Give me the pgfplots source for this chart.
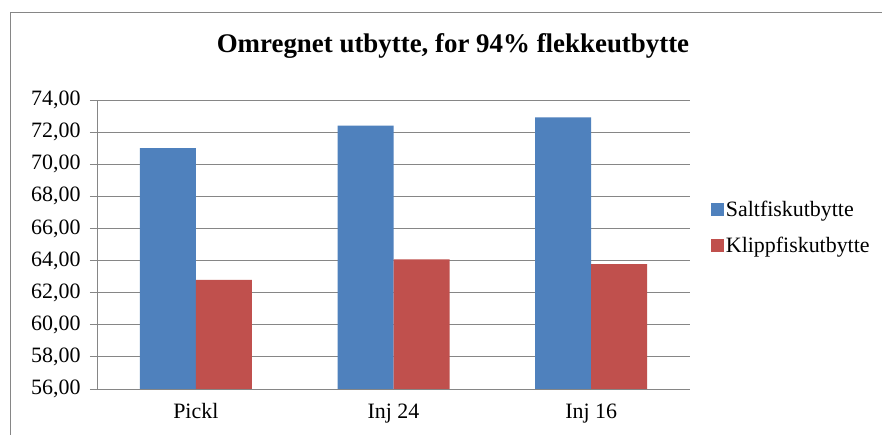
\documentclass[border=0pt]{standalone}
\usepackage{pgfplots}
\pgfplotsset{compat=1.18}
\usepackage{fontspec}
\setmainfont{Liberation Serif}
\definecolor{cblue}{HTML}{4F81BD}
\definecolor{cred}{HTML}{C0504D}
\definecolor{cgrid}{HTML}{868686}
\begin{document}
\begin{tikzpicture}
\useasboundingbox (0,0) rectangle (882bp,435bp);
\fill[white] (0,0) rectangle (882bp,435bp);
\draw[cgrid, line width=0.8bp] (10bp,-10bp) -- (10bp,423bp) -- (900bp,423bp);
\node[font=\fontsize{27}{30}\selectfont\bfseries] at (453bp,389bp) {Omregnet utbytte, for 94\% flekkeutbytte};
\begin{axis}[
  at={(97bp,46bp)}, anchor=south west,
  scale only axis, width=593bp, height=289bp,
  ymin=56, ymax=74, ytick={56,58,...,74},
  xmin=-0.5, xmax=2.5,
  xtick={0,1,2}, xticklabels={Pickl,Inj 24,Inj 16},
  ybar=0pt, bar width=56bp,
  axis lines*=left,
  axis line style={cgrid, line width=0.8bp},
  ymajorgrids, grid style={cgrid, line width=0.8bp},
  major tick length=7bp,
  tick align=outside,
  tick style={cgrid, line width=0.8bp},
  x tick style={draw=none},
  extra x ticks={-0.5,0.5,1.5,2.5}, extra x tick labels={},
  extra x tick style={grid=none, tick style={cgrid, line width=0.8bp}, major tick length=6bp},
  ticklabel style={font=\fontsize{22}{26}\selectfont, text=black},
  yticklabel style={xshift=-6bp},
  xticklabel style={yshift=-4bp},
  /pgf/number format/.cd, fixed, zerofill, precision=2, use comma, assume math mode=true,
  /pgfplots/.cd,
  legend style={at={(1.035,0.56)}, anchor=west, draw=none, fill=none,
    font=\fontsize{22}{26}\selectfont, row sep=15bp, inner sep=0pt},
  legend cell align=left,
  legend image code/.code={\fill[#1] (0bp,-6.5bp) rectangle (13bp,6.5bp);},
]
\addplot[fill=cblue, draw=none] coordinates {(0,71.0) (1,72.4) (2,72.92)};
\addplot[fill=cred, draw=none] coordinates {(0,62.8) (1,64.07) (2,63.77)};
\legend{Saltfiskutbytte,Klippfiskutbytte}
\end{axis}
\end{tikzpicture}
\end{document}
